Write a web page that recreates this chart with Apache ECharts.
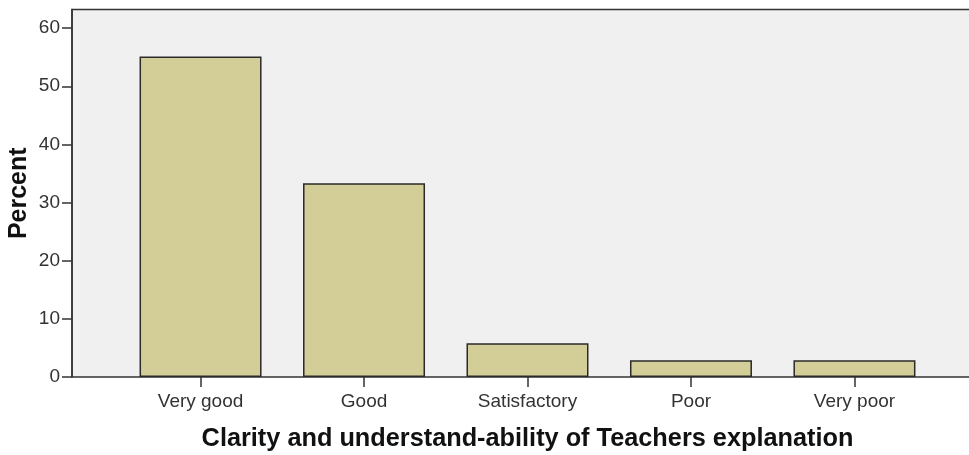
<!DOCTYPE html>
<html><head><meta charset="utf-8">
<script src="https://cdn.jsdelivr.net/npm/echarts@6/dist/echarts.min.js"></script>
<style>html,body{margin:0;padding:0;background:#fff}#c{width:969px;height:455px}</style>
</head><body><div id="c"></div>
<script>
const categories = ['Very good', 'Good', 'Satisfactory', 'Poor', 'Very poor'];
const percents = [55.1, 33.3, 5.8, 2.9, 2.9];
const yMin = 0, yMax = 63.2, yInterval = 10;

const chart = echarts.init(document.getElementById('c'));
const font = '"Liberation Sans", Arial, sans-serif';
chart.setOption({
  animation: false,
  grid: [
    {left: 72, top: 9.5, right: -5, bottom: 78, show: true, backgroundColor: '#f0f0f0', borderColor: '#333', borderWidth: 1.5, outerBoundsMode: 'none', containLabel: false},
    {left: 118.8, top: 9.5, right: 32.8, bottom: 78, outerBoundsMode: 'none', containLabel: false}
  ],
  xAxis: [
    {type: 'value', gridIndex: 0, show: false, min: 0, max: 1},
    {type: 'category', gridIndex: 1, data: categories,
      axisLine: {show: false},
      axisTick: {show: true, alignWithLabel: true, length: 10, lineStyle: {color: '#333', width: 1.5}},
      axisLabel: {fontFamily: font, fontSize: 19, color: '#333', margin: 15},
      name: 'Clarity and understand-ability of Teachers explanation',
      nameLocation: 'middle', nameGap: 50, nameMoveOverlap: false,
      nameTextStyle: {fontFamily: font, fontSize: 25.3, fontWeight: 'bold', color: '#111'}
    }
  ],
  yAxis: [
    {type: 'value', gridIndex: 0, min: yMin, max: yMax, interval: yInterval,
      axisLine: {show: true, lineStyle: {color: '#333', width: 1.5}},
      axisTick: {show: true, length: 10, lineStyle: {color: '#333', width: 1.5}},
      splitLine: {show: false},
      axisLabel: {fontFamily: font, fontSize: 19, color: '#333', margin: 12,
        showMaxLabel: false},
      name: 'Percent', nameLocation: 'middle', nameGap: 40, nameMoveOverlap: false,
      nameTextStyle: {fontFamily: font, fontSize: 25, fontWeight: 'bold', color: '#111'}
    },
    {type: 'value', gridIndex: 1, min: yMin, max: yMax, show: false}
  ],
  series: [{
    type: 'bar', xAxisIndex: 1, yAxisIndex: 1, data: percents,
    barWidth: 122,
    itemStyle: {color: '#d3ce98', borderColor: '#2a2a2a', borderWidth: 1.5}
  }]
});
</script></body></html>
